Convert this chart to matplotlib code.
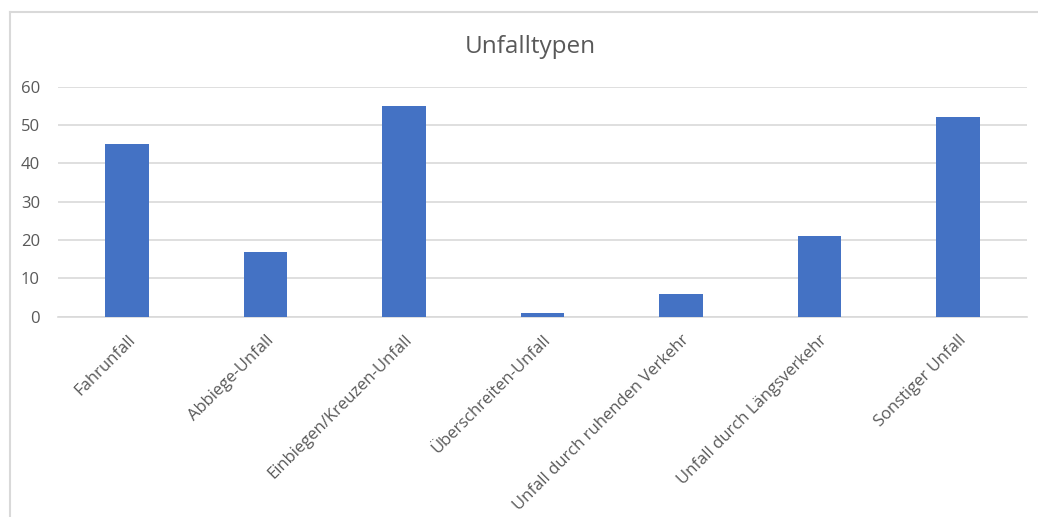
import matplotlib.pyplot as plt
import numpy as np
from matplotlib.lines import Line2D

plt.rcParams['font.family'] = ['Open Sans', 'DejaVu Sans']

categories = ['Fahrunfall', 'Abbiege-Unfall', 'Einbiegen/Kreuzen-Unfall',
              'Überschreiten-Unfall', 'Unfall durch ruhenden Verkehr',
              'Unfall durch Längsverkehr', 'Sonstiger Unfall']
counts = [45, 17, 55, 1, 6, 21, 52]
yticks = [0, 10, 20, 30, 40, 50, 60]

fig = plt.figure(figsize=(10.38, 5.17), dpi=100)
ax = fig.add_axes([58 / 1038, 1 - 316.7 / 517, 969 / 1038, 230 / 517])

# chart area frame (left and top only visible)
fig.add_artist(Line2D([10 / 1038, 10 / 1038], [0, 1 - 12 / 517],
                      transform=fig.transFigure, color='#d9d9d9', lw=1.5))
fig.add_artist(Line2D([10 / 1038, 1], [1 - 12 / 517, 1 - 12 / 517],
                      transform=fig.transFigure, color='#d9d9d9', lw=1.5))

ind = np.arange(len(categories))
ax.bar(ind, counts, 0.315, color='#4472c4', zorder=3)

ax.set_xlim(-0.5, len(categories) - 0.5)
ax.set_ylim(0, 60)
ax.set_yticks(yticks)
ax.yaxis.grid(True, color='#d9d9d9', lw=1.2, zorder=0)
for s in ['top', 'right', 'left']:
    ax.spines[s].set_visible(False)
ax.spines['bottom'].set_color('#d9d9d9')
ax.spines['bottom'].set_linewidth(1.2)
ax.tick_params(axis='both', length=0, colors='#595959', labelsize=12)
ax.tick_params(axis='y', pad=13)
ax.set_xticks(ind)
ax.set_xticklabels(categories, rotation=45, ha='right', va='top',
                   rotation_mode='anchor')
ax.tick_params(axis='x', pad=11)

fig.text(530 / 1038, 1 - 47 / 517, 'Unfalltypen', ha='center', va='center',
         fontsize=17.5, color='#595959')

fig.savefig('out.png', dpi=100, facecolor='white')
